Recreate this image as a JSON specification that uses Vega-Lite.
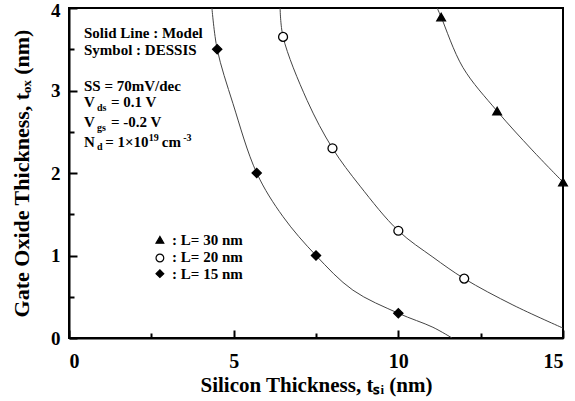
{
  "$schema": "https://vega.github.io/schema/vega-lite/v6.json",
  "width": 494,
  "height": 330,
  "autosize": "none",
  "padding": {"left": 69, "top": 8, "right": 12, "bottom": 63},
  "background": "white",
  "config": {
    "view": {"stroke": "black", "strokeWidth": 2},
    "font": "Liberation Serif"
  },
  "datasets": {
    "points": [
      {"series": "L30", "x": 11.3, "y": 3.89},
      {"series": "L30", "x": 13.0, "y": 2.75},
      {"series": "L30", "x": 15.0, "y": 1.89},
      {"series": "L20", "x": 6.5, "y": 3.65},
      {"series": "L20", "x": 8.0, "y": 2.3},
      {"series": "L20", "x": 10.0, "y": 1.3},
      {"series": "L20", "x": 12.0, "y": 0.72},
      {"series": "L15", "x": 4.5, "y": 3.5},
      {"series": "L15", "x": 5.7, "y": 2.0},
      {"series": "L15", "x": 7.5, "y": 1.0},
      {"series": "L15", "x": 10.0, "y": 0.3}
    ],
    "model": [
      {"series": "L30", "x": 11.18, "y": 4.0},
      {"series": "L30", "x": 11.3, "y": 3.89},
      {"series": "L30", "x": 11.96, "y": 3.28},
      {"series": "L30", "x": 13.0, "y": 2.75},
      {"series": "L30", "x": 14.06, "y": 2.28},
      {"series": "L30", "x": 15.0, "y": 1.89},
      {"series": "L20", "x": 6.41, "y": 4.0},
      {"series": "L20", "x": 6.5, "y": 3.65},
      {"series": "L20", "x": 7.23, "y": 2.88},
      {"series": "L20", "x": 8.0, "y": 2.3},
      {"series": "L20", "x": 8.84, "y": 1.84},
      {"series": "L20", "x": 10.0, "y": 1.3},
      {"series": "L20", "x": 11.05, "y": 0.98},
      {"series": "L20", "x": 12.0, "y": 0.72},
      {"series": "L20", "x": 13.48, "y": 0.4},
      {"series": "L20", "x": 15.0, "y": 0.12},
      {"series": "L15", "x": 4.34, "y": 4.0},
      {"series": "L15", "x": 4.5, "y": 3.5},
      {"series": "L15", "x": 4.98, "y": 2.84},
      {"series": "L15", "x": 5.7, "y": 2.0},
      {"series": "L15", "x": 6.5, "y": 1.47},
      {"series": "L15", "x": 7.5, "y": 1.0},
      {"series": "L15", "x": 8.62, "y": 0.58},
      {"series": "L15", "x": 10.0, "y": 0.3},
      {"series": "L15", "x": 11.05, "y": 0.13},
      {"series": "L15", "x": 11.63, "y": 0.0}
    ],
    "legend": [
      {"series": "L30", "x": 2.76, "y": 1.19, "tx": 3.13, "ty": 1.13, "label": ": L= 30 nm"},
      {"series": "L20", "x": 2.76, "y": 0.97, "tx": 3.13, "ty": 0.92, "label": ": L= 20 nm"},
      {"series": "L15", "x": 2.76, "y": 0.78, "tx": 3.13, "ty": 0.715, "label": ": L= 15 nm"}
    ],
    "notes": [
      {"x": 0.456, "y": 3.64, "text": "Solid Line : Model"},
      {"x": 0.456, "y": 3.43, "text": "Symbol : DESSIS"},
      {"x": 0.456, "y": 2.99, "text": "SS = 70mV/dec"},
      {"x": 0.456, "y": 2.8, "text": "V"},
      {"x": 1.275, "y": 2.8, "text": "= 0.1 V"},
      {"x": 0.456, "y": 2.56, "text": "V"},
      {"x": 1.275, "y": 2.56, "text": "= -0.2 V"},
      {"x": 0.456, "y": 2.315, "text": "N"},
      {"x": 1.1, "y": 2.315, "text": "= 1×10"},
      {"x": 2.82, "y": 2.315, "text": "cm"}
    ],
    "smallnotes": [
      {"x": 0.85, "y": 2.755, "text": "ds"},
      {"x": 0.85, "y": 2.51, "text": "gs"},
      {"x": 0.85, "y": 2.275, "text": "d"},
      {"x": 2.42, "y": 2.39, "text": "19"},
      {"x": 3.47, "y": 2.39, "text": "-3"}
    ]
  },
  "encoding": {
    "x": {
      "field": "x", "type": "quantitative",
      "scale": {"domain": [0, 15], "nice": false, "zero": false},
      "axis": {
        "title": "Silicon Thickness, tₛᵢ (nm)",
        "values": [0, 2.5, 5, 7.5, 10, 12.5, 15],
        "labelExpr": "datum.value % 5 === 0 ? format(datum.value, 'd') : ''",
        "grid": false,
        "domainColor": "black", "domainWidth": 2,
        "tickColor": "black", "tickWidth": 2,
        "tickSize": {"condition": {"test": "datum.value % 5 !== 0", "value": -5}, "value": -8},
        "labelFont": "Liberation Serif", "labelFontWeight": "bold", "labelFontSize": 20, "labelColor": "black",
        "labelPadding": 21,
        "titleFont": "Liberation Serif", "titleFontWeight": "bold", "titleFontSize": 21, "titleColor": "black",
        "titlePadding": 3
      }
    },
    "y": {
      "field": "y", "type": "quantitative",
      "scale": {"domain": [0, 4], "nice": false, "zero": false},
      "axis": {
        "title": "Gate Oxide Thickness, tₒₓ (nm)",
        "values": [0, 0.5, 1, 1.5, 2, 2.5, 3, 3.5, 4],
        "labelExpr": "datum.value % 1 === 0 ? format(datum.value, 'd') : ''",
        "grid": false,
        "domainColor": "black", "domainWidth": 2,
        "tickColor": "black", "tickWidth": 2,
        "tickSize": {"condition": {"test": "datum.value % 1 !== 0", "value": -5}, "value": -8},
        "labelFont": "Liberation Serif", "labelFontWeight": "bold", "labelFontSize": 19, "labelColor": "black",
        "labelPadding": 17,
        "labelOffset": {"condition": {"test": "datum.value === 4", "value": 2}, "value": 0},
        "titleFont": "Liberation Serif", "titleFontWeight": "bold", "titleFontSize": 22, "titleColor": "black",
        "titlePadding": 17
      }
    }
  },
  "layer": [
    {
      "data": {"name": "model"},
      "mark": {"type": "line", "interpolate": "catmull-rom", "stroke": "#444", "strokeWidth": 1, "clip": true},
      "encoding": {"detail": {"field": "series"}}
    },
    {
      "data": {"name": "points"},
      "mark": {"type": "point", "filled": true, "strokeWidth": 1.3, "opacity": 1},
      "encoding": {
        "shape": {"field": "series", "type": "nominal", "scale": {"domain": ["L30", "L20", "L15"], "range": ["triangle-up", "circle", "diamond"]}, "legend": null},
        "fill": {"field": "series", "type": "nominal", "scale": {"domain": ["L30", "L20", "L15"], "range": ["black", "white", "black"]}, "legend": null},
        "stroke": {"value": "black"},
        "size": {"field": "series", "type": "nominal", "scale": {"domain": ["L30", "L20", "L15"], "range": [75, 85, 100]}, "legend": null}
      }
    },
    {
      "data": {"name": "legend"},
      "mark": {"type": "point", "filled": true, "strokeWidth": 1.2, "opacity": 1},
      "encoding": {
        "shape": {"field": "series", "type": "nominal", "scale": {"domain": ["L30", "L20", "L15"], "range": ["triangle-up", "circle", "diamond"]}, "legend": null},
        "fill": {"field": "series", "type": "nominal", "scale": {"domain": ["L30", "L20", "L15"], "range": ["black", "white", "black"]}, "legend": null},
        "stroke": {"value": "black"},
        "size": {"value": 60}
      }
    },
    {
      "data": {"name": "legend"},
      "mark": {"type": "text", "align": "left", "baseline": "alphabetic", "font": "Liberation Serif", "fontWeight": "bold", "fontSize": 15, "color": "black"},
      "encoding": {
        "x": {"field": "tx", "type": "quantitative"},
        "y": {"field": "ty", "type": "quantitative"},
        "text": {"field": "label"}
      }
    },
    {
      "data": {"name": "notes"},
      "mark": {"type": "text", "align": "left", "baseline": "alphabetic", "font": "Liberation Serif", "fontWeight": "bold", "fontSize": 15, "color": "black"},
      "encoding": {"text": {"field": "text"}}
    },
    {
      "data": {"name": "smallnotes"},
      "mark": {"type": "text", "align": "left", "baseline": "alphabetic", "font": "Liberation Serif", "fontWeight": "bold", "fontSize": 10, "color": "black"},
      "encoding": {"text": {"field": "text"}}
    }
  ]
}
